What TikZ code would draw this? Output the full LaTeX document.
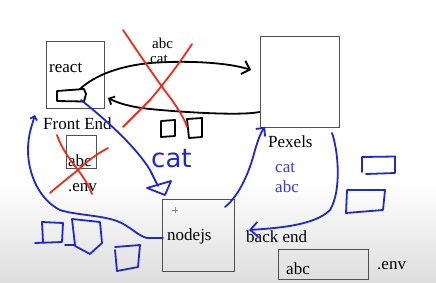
\documentclass[tikz,border=0pt]{standalone}
\usepackage{fontspec}
\setmainfont{Liberation Serif}
\newfontfamily\handfont{DejaVu Sans}
\usetikzlibrary{arrows.meta}
\definecolor{inkblue}{RGB}{30,40,210}
\definecolor{txtblue}{RGB}{60,60,215}
\definecolor{inkred}{RGB}{235,45,30}
\definecolor{boxgray}{RGB}{80,80,80}
\begin{document}
\begin{tikzpicture}[x=1pt,y=-1pt,
  box/.style={draw=boxgray,line width=1pt,inner sep=0pt},
  lbl/.style={font=\fontsize{17}{17}\selectfont,inner sep=0pt,anchor=base west},
  ink/.style={line width=1.8pt,line cap=round,line join=round},
  barb/.style={-{Straight Barb[length=#1pt,width=2*#1pt]}}]
\useasboundingbox (0,0) rectangle (436,282);
\fill[white] (0,0) rectangle (436,282);
\shade[top color=white,bottom color=black!13] (0,182) rectangle (436,282);

% printed boxes
\node[box,minimum width=58pt,minimum height=67pt] (react) at (75,74.5) {};
\node[box,minimum width=30pt,minimum height=33pt] (envbox) at (81,151.5) {};
\node[box,minimum width=79pt,minimum height=91pt] (pexels) at (299.5,81.5) {};
\node[box,minimum width=72pt,minimum height=72pt] (nodejs) at (198,235) {};
\node[box,minimum width=90pt,minimum height=30pt] (backenv) at (323,264) {};

% printed labels
\node[lbl] (treact) at (49,72) {react};
\node[lbl] (tfront) at (43,129) {Front End};
\node[lbl] (tabc1) at (68,166) {abc};
\node[lbl] (tenv1) at (68,191) {.env};
\node[lbl,font=\fontsize{15}{15}\selectfont] (tabc2) at (152,48.5) {abc};
\node[lbl,font=\fontsize{15}{15}\selectfont] (tcat2) at (150,63) {cat};
\node[lbl] (tpexels) at (268,147) {Pexels};
\node[lbl,text=txtblue] (tcat3) at (275,172) {cat};
\node[lbl,text=txtblue] (tabc3) at (275,192) {abc};
\node[lbl] (tnode) at (167,240) {nodejs};
\node[lbl] (tback) at (246,242) {back end};
\node[lbl] (tabc4) at (286,274) {abc};
\node[lbl] (tenv2) at (377,269) {.env};

% pointer cross inside the nodejs box
\draw[black!45,line width=0.6pt] (172,210) -- (178,210) (175,207) -- (175,213);

% black ink: component sketch and request arrows
\draw[ink] (57,91) -- (57,101) -- (84,101.5) -- (86,94) -- (84,89) -- cycle;
\coordinate (cstart) at (80,89);
\coordinate (ctip) at (251,70);
\draw[ink,barb=7] (cstart) .. controls (95,75) and (120,66) .. (150,63)
  .. controls (190,60) and (230,63) .. (ctip);
\coordinate (rtip) at (108,98);
\draw[ink,barb=4.5] (pexels.west |- 0,112) .. controls (240,116) and (180,112) .. (150,109)
  .. controls (130,107) and (118,103) .. (rtip);
\draw[ink] (161,121) -- (175,120) -- (175,136) -- (161,137) -- cycle;
\draw[ink] (187,119) -- (202,118) -- (202,137) -- (189,138) -- cycle;

% red crosses
\draw[ink,inkred] (123,30) .. controls (140,55) and (160,85) .. (172,100)
  .. controls (180,112) and (185,120) .. (187,127);
\draw[ink,inkred] (192,44) .. controls (175,70) and (160,88) .. (150,100)
  .. controls (140,110) and (130,120) .. (123,127);
\draw[ink,inkred] (57,135) .. controls (62,150) and (72,162) .. (78,170)
  .. controls (84,178) and (89,186) .. (92,194);
\draw[ink,inkred] (108,148) .. controls (95,155) and (85,163) .. (78,170)
  .. controls (68,178) and (58,186) .. (50,193);

% blue ink: flows between front end and back end
\coordinate (bfrom) at (81,100);
\draw[ink,inkblue] (bfrom) .. controls (100,115) and (135,145) .. (150,170) -- (158,186);
\draw[ink,inkblue] (147,188) -- (171,181) -- (165,195) -- cycle;
\node[inner sep=0pt,anchor=base west,text=inkblue,font=\handfont\fontsize{26}{26}\selectfont] (hcat) at (151,167) {cat};

\coordinate (lstart) at (163,238);
\coordinate (ltip) at (35,115);
\draw[ink,inkblue,barb=3.5] (lstart) -- (147,238) .. controls (138,236) and (130,226) .. (117,221)
  .. controls (100,215) and (75,215) .. (60,210)
  .. controls (40,200) and (28,175) .. (28,150)
  .. controls (28,135) and (32,125) .. (ltip);

\coordinate (ustart) at (225,207);
\coordinate (utip) at (265,127);
\draw[ink,inkblue,barb=6] (ustart) .. controls (240,195) and (250,170) .. (255,150)
  .. controls (258,140) and (261,132) .. (utip);

\coordinate (dstart) at (332,133);
\coordinate (dtip) at (249,230);
\draw[ink,inkblue,barb=7.5] (dstart) .. controls (338,150) and (342,190) .. (330,210)
  .. controls (315,225) and (280,228) .. (dtip);

% blue sketched boxes
\draw[ink,inkblue] (362,172) -- (362,157) -- (395,156.5) -- (395,173) -- (366,174);
\draw[ink,inkblue] (347,190) -- (385,190) -- (383,210) -- (346,213) -- (347,190);
\draw[ink,inkblue] (35,243) -- (62,242) -- (63,223) -- (42,222) -- (43,242);
\draw[ink,inkblue] (65,245) -- (75,245) -- (72,219) -- (100,222) -- (102,243) -- (90,254) -- (75,246);
\draw[ink,inkblue] (115,247) -- (140,245) -- (138,267) -- (117,271) -- (115,250);
\end{tikzpicture}
\end{document}
